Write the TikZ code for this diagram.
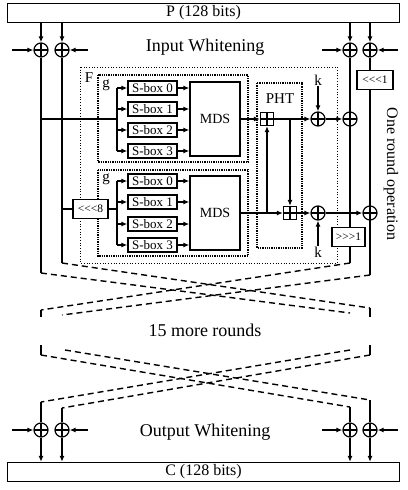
\documentclass[tikz,border=0pt]{standalone}
\usepackage{fontspec}
\setmainfont{Liberation Serif}
\usepackage{tikz}
\usetikzlibrary{shapes,shapes.geometric,positioning,arrows,arrows.meta}
\pgfdeclarelayer{background}
\pgfsetlayers{background,main}

\tikzset{
    >={Latex[length=6pt,width=5pt]},
    wire/.style={line width=1.2pt},
    dashwire/.style={line width=1.4pt,dash pattern=on 6pt off 4pt},
    fbox/.style={draw,dotted,line width=0.7pt},
    gbox/.style={draw,densely dotted,line width=1.3pt},
    bar/.style={draw,line width=1.3pt,minimum width=392pt,minimum height=19pt,inner sep=0pt,font=\fontsize{16}{17}\selectfont},
    big/.style={font=\fontsize{18}{20}\selectfont},
    lab/.style={font=\fontsize{15}{16}\selectfont,inner sep=1pt},
    sbox/.style={draw,line width=1.4pt,minimum width=49pt,minimum height=14pt,inner sep=0pt,font=\fontsize{13}{14}\selectfont},
    mds/.style={draw,line width=1.4pt,minimum width=50pt,minimum height=74pt,inner sep=0pt,font=\fontsize{14}{15}\selectfont},
    shiftbox/.style={draw,fill=white,line width=1.2pt,minimum height=19pt,inner sep=0pt,font=\fontsize{11.5}{12}\selectfont},
    xor/.style={circle,draw,line width=1.2pt,minimum size=14pt,inner sep=0pt,
        path picture={\draw[line width=1.2pt] (path picture bounding box.north) -- (path picture bounding box.south)
            (path picture bounding box.west) -- (path picture bounding box.east);}},
    adder/.style={rectangle,draw,line width=1.2pt,minimum size=13pt,inner sep=0pt,
        path picture={\draw[line width=1.2pt] (path picture bounding box.north) -- (path picture bounding box.south)
            (path picture bounding box.west) -- (path picture bounding box.east);}}
}

\begin{document}
\begin{tikzpicture}[x=1pt,y=-1pt]
    \useasboundingbox (0,0) rectangle (407,490);

    \node[bar] (P) at (203.5,13) {P (128 bits)};
    \node[bar] (C) at (203.5,472) {C (128 bits)};

    % whitening
    \node[big] (inw) at (205,47) {Input Whitening};
    \node[big] (outw) at (205,432) {Output Whitening};
    \foreach \i/\x/\k in {1/41/12,2/62/88,3/350/322,4/370/398} {
        \node[xor] (wi\i) at (\x,50) {};
        \node[xor] (wo\i) at (\x,430) {};
        \coordinate (ki\i) at (\k,50);
        \coordinate (ko\i) at (\k,430);
        \draw[wire,->] (ki\i) -- (wi\i);
        \draw[wire,->] (ko\i) -- (wo\i);
        \draw[wire,->] (P.south -| wi\i) -- (wi\i);
        \draw[wire,->] (wo\i) -- (wo\i |- C.north);
    }

    % round function
    \draw[fbox] (80,67) rectangle (337,263);
    \draw[gbox] (98,75) rectangle (248,162);
    \draw[gbox] (98,170) rectangle (248,256);
    \draw[gbox] (257,83) rectangle (302,248);
    \node[lab] (Flab) at (89,78) {F};
    \node[lab] (ga) at (106,85) {g};
    \node[lab] (gb) at (106,179) {g};
    \node[lab] (phtlab) at (280,99) {PHT};
    \node[font=\fontsize{16}{17}\selectfont,rotate=-90] (onerd) at (391,174) {One round operation};

    \node[mds] (mdsa) at (215,119) {MDS};
    \node[mds] (mdsb) at (215,213) {MDS};
    \foreach \i/\y in {0/88,1/109,2/130,3/151} {
        \node[sbox] (sa\i) at (152.5,\y) {S-box \i};
        \coordinate (fa\i) at (117,\y);
        \draw[wire,->] (fa\i) -- (sa\i);
        \draw[wire,->] (sa\i) -- (sa\i -| mdsa.west);
    }
    \foreach \i/\y in {0/181,1/202,2/224,3/245} {
        \node[sbox] (sb\i) at (152.5,\y) {S-box \i};
        \coordinate (fb\i) at (117,\y);
        \draw[wire,->] (fb\i) -- (sb\i);
        \draw[wire,->] (sb\i) -- (sb\i -| mdsb.west);
    }
    \draw[wire] (fa0) -- (fa3);
    \draw[wire] (fb0) -- (fb3);
    \coordinate (fa) at (117,119);
    \coordinate (fb) at (117,209);

    \node[shiftbox,minimum width=35pt] (rol8) at (90.5,209) {<{}<{}<8};
    \node[shiftbox,minimum width=36pt] (rol1) at (375,80) {<{}<{}<1};
    \node[shiftbox,minimum width=33pt] (ror1) at (348.5,237) {>{}>{}>1};

    \node[adder] (ada) at (267,119) {};
    \node[adder] (adb) at (290,213) {};
    \node[xor] (xka) at (318,119) {};
    \node[xor] (xkb) at (318,213) {};
    \node[xor] (xra) at (350,119) {};
    \node[xor] (xrb) at (370,213) {};
    \node[lab] (ka) at (318,80) {k};
    \node[lab] (kb) at (318,252) {k};

    \draw[wire,->] (mdsa) -- (ada);
    \draw[wire,->] (ada) -- (xka);
    \draw[wire,->] (xka) -- (xra);
    \draw[wire,->] (mdsb) -- (adb);
    \draw[wire,->] (adb) -- (xkb);
    \draw[wire,->] (xkb) -- (xrb);
    \draw[wire,->] (adb.north |- ada) -- (adb.north);
    \draw[line width=1.8pt,->] (ada.south |- adb) -- (ada.south);
    \draw[line width=1.6pt,->] (ka) -- (xka);
    \draw[line width=1.6pt,->] (kb) -- (xkb);

    % half lines
    \coordinate (a1) at (41,273);
    \coordinate (b1) at (62,263);
    \coordinate (c1) at (350,263);
    \coordinate (d1) at (370,275);
    \begin{pgfonlayer}{background}
        \draw[wire] (wi1) -- (a1);
        \draw[wire] (wi1 |- fa) -- (fa);
        \draw[wire] (wi2) -- (b1);
        \draw[wire] (wi2 |- rol8) -- (fb);
        \draw[wire] (wi3) -- (c1);
        \draw[wire] (wi4) -- (d1);
    \end{pgfonlayer}

    % 15 more rounds
    \coordinate (a2) at (41,310);
    \coordinate (b2) at (62,315);
    \coordinate (c2) at (350,313);
    \coordinate (d2) at (370,308);
    \draw[dashwire] (a1) -- (c2);
    \draw[dashwire] (b1) -- (d2);
    \draw[dashwire] (c1) -- (a2);
    \draw[dashwire] (d1) -- (b2);
    \draw[wire] (a2) -- ++(0,7);
    \draw[wire] (d2) -- ++(0,9);
    \node[big] (more) at (205,330) {15 more rounds};
    \coordinate (a3) at (41,355);
    \coordinate (b3) at (65,350);
    \coordinate (c3) at (350,350);
    \coordinate (d3) at (370,355);
    \draw[wire] (a3) -- ++(0,-10);
    \draw[wire] (d3) -- ++(0,-10);
    \coordinate (a4) at (41,402);
    \coordinate (b4) at (62,408);
    \coordinate (c4) at (350,407);
    \coordinate (d4) at (370,400);
    \draw[dashwire] (a3) -- (c4);
    \draw[dashwire] (b3) -- (d4);
    \draw[dashwire] (c3) -- (a4);
    \draw[dashwire] (d3) -- (b4);
    \draw[wire] (a4) -- (wo1);
    \draw[wire] (b4) -- (wo2);
    \draw[wire] (c4) -- (wo3);
    \draw[wire] (d4) -- (wo4);
\end{tikzpicture}
\end{document}
